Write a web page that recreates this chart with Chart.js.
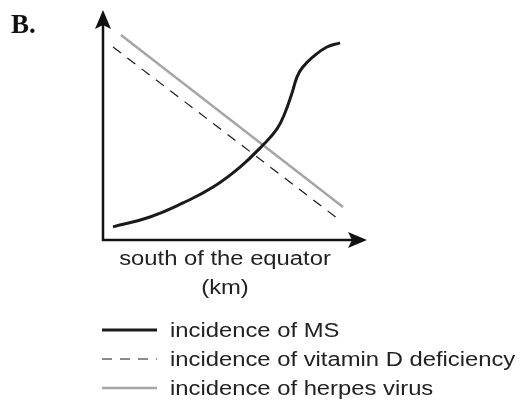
<!DOCTYPE html>
<html>
<head>
<meta charset="utf-8">
<script src="https://cdn.jsdelivr.net/npm/chart.js@4/dist/chart.umd.min.js"></script>
<style>
  html, body { margin: 0; padding: 0; background: #fff; }
  #wrap { width: 521px; height: 401px; }
</style>
</head>
<body>
<div id="wrap"><canvas id="myChart" width="521" height="401"></canvas></div>
<script>
// values (arbitrary units, 0-100 on both axes)
var msX = [3.8, 17.8, 30.3, 41.7, 51.9, 60.6, 65.9, 68.9, 71.6, 73.5, 75.4, 79.5, 84.8, 89.8];
var msY = [5.7, 10.0, 16.1, 23.0, 31.7, 41.3, 48.3, 55.2, 63.9, 70.9, 74.8, 79.6, 83.9, 85.7];
var vitDX = [3.8, 88.6];
var vitDY = [83.9, 9.6];
var herpesX = [6.8, 90.9];
var herpesY = [89.1, 14.3];
var seriesNames = ["incidence of MS", "incidence of vitamin D deficiency", "incidence of herpes virus"];
var axisTitle = ["south of the equator", "(km)"];
var panelLabel = "B.";

function pts(xs, ys) {
  return xs.map(function(x, i) { return { x: x, y: ys[i] }; });
}

var sans = '"Liberation Sans", Arial, sans-serif';
var stretch = 1.19; // the original lettering is a bit wide

function wideText(ctx, txt, x, y) {
  ctx.save();
  ctx.translate(x, y);
  ctx.scale(stretch, 1);
  ctx.fillText(txt, 0, 0);
  ctx.restore();
}

// axes with arrow heads, panel letter, axis title and the legend
var sketchPlugin = {
  id: 'sketch',
  afterDraw: function(chart) {
    var ctx = chart.ctx;
    var xs = chart.scales.x, ys = chart.scales.y;
    var x0 = xs.getPixelForValue(0), y0 = ys.getPixelForValue(0);
    var xEnd = xs.getPixelForValue(100), yEnd = ys.getPixelForValue(100);

    ctx.save();
    ctx.strokeStyle = '#111';
    ctx.fillStyle = '#111';
    ctx.lineWidth = 2.5;
    ctx.beginPath();
    ctx.moveTo(x0, yEnd + 12);
    ctx.lineTo(x0, y0);
    ctx.lineTo(xEnd - 12, y0);
    ctx.stroke();

    // arrow heads
    ctx.beginPath();
    ctx.moveTo(x0, yEnd);
    ctx.lineTo(x0 - 8, yEnd + 19);
    ctx.lineTo(x0, yEnd + 15);
    ctx.lineTo(x0 + 8, yEnd + 19);
    ctx.closePath();
    ctx.fill();
    ctx.beginPath();
    ctx.moveTo(xEnd, y0);
    ctx.lineTo(xEnd - 19, y0 - 8);
    ctx.lineTo(xEnd - 15, y0);
    ctx.lineTo(xEnd - 19, y0 + 8);
    ctx.closePath();
    ctx.fill();

    // panel letter
    ctx.font = 'bold 27px "Liberation Serif", "Times New Roman", serif';
    ctx.textAlign = 'left';
    ctx.textBaseline = 'alphabetic';
    ctx.fillText(panelLabel, 11, 33);

    // x axis title
    ctx.fillStyle = '#222';
    ctx.font = '20px ' + sans;
    ctx.textAlign = 'center';
    wideText(ctx, axisTitle[0], 225, 265);
    wideText(ctx, axisTitle[1], 225, 294);

    // legend from the datasets
    ctx.textAlign = 'left';
    ctx.textBaseline = 'middle';
    chart.data.datasets.forEach(function(ds, i) {
      var yy = 330 + i * 29;
      ctx.save();
      ctx.strokeStyle = ds.borderColor;
      ctx.lineWidth = ds.borderWidth;
      ctx.setLineDash(ds.legendDash || []);
      ctx.beginPath();
      ctx.moveTo(102, yy);
      ctx.lineTo(157, yy);
      ctx.stroke();
      ctx.restore();
      ctx.fillStyle = '#222';
      wideText(ctx, ds.label, 170, yy + 1);
    });
    ctx.restore();
  }
};

var ctx = document.getElementById("myChart").getContext("2d");
var chart = new Chart(ctx, {
  type: 'line',
  data: {
    datasets: [
      {
        label: seriesNames[0],
        data: pts(msX, msY),
        borderColor: '#1a1a1a',
        borderWidth: 3,
        tension: 0.45,
        pointRadius: 0
      },
      {
        label: seriesNames[1],
        data: pts(vitDX, vitDY),
        borderColor: '#1a1a1a',
        borderWidth: 1.2,
        borderDash: [10, 8],
        legendDash: [10, 8],
        pointRadius: 0
      },
      {
        label: seriesNames[2],
        data: pts(herpesX, herpesY),
        borderColor: '#a6a6a6',
        borderWidth: 2.5,
        pointRadius: 0
      }
    ]
  },
  options: {
    responsive: false,
    animation: false,
    events: [],
    layout: { padding: { left: 103, right: 154, top: 10, bottom: 161 } },
    scales: {
      x: { type: 'linear', min: 0, max: 100, display: false },
      y: { type: 'linear', min: 0, max: 100, display: false }
    },
    plugins: {
      legend: { display: false },
      tooltip: { enabled: false }
    }
  },
  plugins: [sketchPlugin]
});
</script>
</body>
</html>
